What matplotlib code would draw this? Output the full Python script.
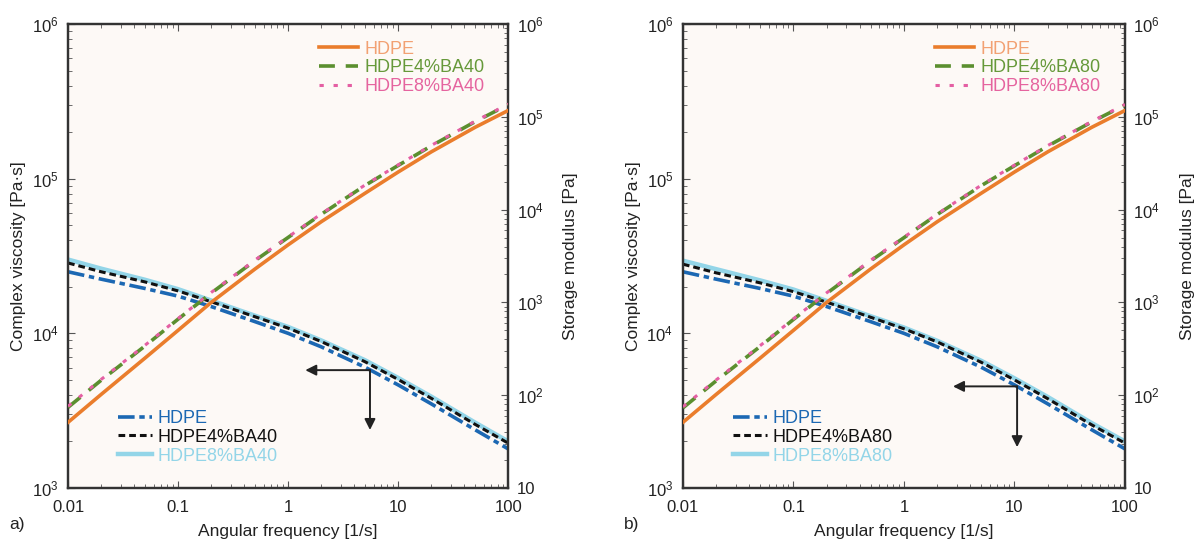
import matplotlib
matplotlib.use("Agg")
import matplotlib.pyplot as plt
import numpy as np
from matplotlib.ticker import FixedLocator, FixedFormatter, LogLocator, NullFormatter

plt.rcParams['font.family'] = ['Liberation Sans', 'DejaVu Sans']
plt.rcParams['mathtext.default'] = 'regular'

# angular frequency [1/s]
freq = [0.01, 0.02, 0.05, 0.1, 0.2, 0.5, 1, 2, 5, 10, 20, 50, 100]

# complex viscosity [Pa.s] (left axis)
eta_hdpe = [2.5e4, 2.24e4, 1.95e4, 1.74e4, 1.49e4, 1.19e4, 1.0e4, 8.18e3, 6.04e3, 4.64e3, 3.5e3, 2.38e3, 1.79e3]
eta_ba40_4 = [2.85e4, 2.5e4, 2.15e4, 1.88e4, 1.6e4, 1.28e4, 1.08e4, 8.85e3, 6.55e3, 5.03e3, 3.8e3, 2.58e3, 1.95e3]
eta_ba40_8 = [3.0e4, 2.62e4, 2.22e4, 1.93e4, 1.63e4, 1.3e4, 1.1e4, 9.0e3, 6.7e3, 5.15e3, 3.9e3, 2.65e3, 2.0e3]
eta_ba80_4 = [2.8e4, 2.46e4, 2.12e4, 1.86e4, 1.59e4, 1.27e4, 1.07e4, 8.8e3, 6.5e3, 5.0e3, 3.78e3, 2.56e3, 1.95e3]
eta_ba80_8 = [2.95e4, 2.6e4, 2.2e4, 1.92e4, 1.62e4, 1.29e4, 1.09e4, 8.95e3, 6.65e3, 5.12e3, 3.88e3, 2.63e3, 2.0e3]

# storage modulus [Pa] (right axis)
g_hdpe = [51, 102, 251, 500, 1000, 2290, 4170, 7400, 1.5e4, 2.54e4, 4.19e4, 7.7e4, 1.17e5]
g_ba40_4 = [74, 145, 339, 660, 1260, 2820, 5010, 8900, 1.82e4, 2.99e4, 4.86e4, 8.85e4, 1.35e5]
g_ba40_8 = [76, 148, 345, 670, 1280, 2860, 5070, 9000, 1.84e4, 3.03e4, 4.92e4, 8.95e4, 1.37e5]
g_ba80_4 = [73, 143, 335, 655, 1250, 2800, 4980, 8850, 1.81e4, 2.97e4, 4.84e4, 8.8e4, 1.34e5]
g_ba80_8 = [75, 146, 342, 665, 1270, 2840, 5040, 8950, 1.83e4, 3.01e4, 4.9e4, 8.9e4, 1.36e5]

x_ticks = [0.01, 0.1, 1, 10, 100]
x_labels = ['0.01', '0.1', '1', '10', '100']
left_ticks = [1e3, 1e4, 1e5, 1e6]
left_labels = ['$10^3$', '$10^4$', '$10^5$', '$10^6$']
right_ticks = [10, 1e2, 1e3, 1e4, 1e5, 1e6]
right_labels = ['10', '$10^2$', '$10^3$', '$10^4$', '$10^5$', '$10^6$']

c_orange = '#ea7d2c'
c_green = '#5b8f2f'
c_pink = '#e45fa3'
c_blue = '#1c68b3'
c_black = '#111111'
c_lblue = '#93d5e8'

fig = plt.figure(figsize=(11.96, 5.43), dpi=100)


def setup(ax):
    ax.set_facecolor('#fdf9f6')
    ax.set_xscale('log')
    ax.set_yscale('log')
    ax.set_xlim(0.01, 100)
    ax.set_ylim(1e3, 1e6)
    ax.xaxis.set_major_locator(FixedLocator(x_ticks))
    ax.xaxis.set_major_formatter(FixedFormatter(x_labels))
    ax.xaxis.set_minor_locator(LogLocator(base=10, subs=np.arange(2, 10)))
    ax.xaxis.set_minor_formatter(NullFormatter())
    ax.yaxis.set_major_locator(FixedLocator(left_ticks))
    ax.yaxis.set_major_formatter(FixedFormatter(left_labels))
    ax.yaxis.set_minor_locator(LogLocator(base=10, subs=np.arange(2, 10)))
    ax.yaxis.set_minor_formatter(NullFormatter())
    ax.tick_params(which='both', direction='in', top=True, right=False, labelsize=12,
                   color='#555555', labelcolor='#222222')
    ax.tick_params(which='major', length=5)
    ax.tick_params(which='minor', length=3)
    ax.tick_params(axis='x', which='major', pad=9)
    ax.tick_params(axis='y', which='major', pad=7)
    for s in ax.spines.values():
        s.set_linewidth(1.6)
        s.set_color('#333333')
    ax.set_xlabel('Angular frequency [1/s]', fontsize=12.5, color='#222222', labelpad=6)
    ax.set_ylabel('Complex viscosity [Pa·s]', fontsize=12.5, color='#222222', labelpad=4)
    tw = ax.twinx()
    tw.set_yscale('log')
    tw.set_ylim(10, 1e6)
    tw.yaxis.set_major_locator(FixedLocator(right_ticks))
    tw.yaxis.set_major_formatter(FixedFormatter(right_labels))
    tw.yaxis.set_minor_locator(LogLocator(base=10, subs=np.arange(2, 10)))
    tw.yaxis.set_minor_formatter(NullFormatter())
    tw.tick_params(which='both', direction='in', labelsize=12, color='#555555', labelcolor='#222222')
    tw.tick_params(which='major', length=5, pad=6)
    tw.tick_params(which='minor', length=3)
    for s in tw.spines.values():
        s.set_linewidth(1.6)
        s.set_color('#333333')
    tw.set_ylabel('Storage modulus [Pa]', fontsize=12.5, color='#222222', labelpad=14)
    return tw


def panel(rect, eta4, eta8, g4, g8, tag, letter, arrow):
    ax = fig.add_axes(rect)
    tw = setup(ax)

    l1, = ax.plot(freq, eta_hdpe, color=c_blue, lw=2.6, dashes=(4.6, 1.3, 1.5, 1.3), zorder=3)
    l3, = ax.plot(freq, eta8, color=c_lblue, lw=3.2, zorder=2)
    l2, = ax.plot(freq, eta4, color=c_black, lw=2.2, dashes=(2.2, 1.3), zorder=4)
    ax.legend([l1, l2, l3], ['HDPE', 'HDPE4%' + tag, 'HDPE8%' + tag],
              labelcolor=[c_blue, c_black, c_lblue], loc='lower left',
              bbox_to_anchor=(0.097, 0.035), frameon=False, fontsize=13,
              handlelength=1.9, handletextpad=0.3, labelspacing=0.1, borderaxespad=0)

    g1, = tw.plot(freq, g_hdpe, color=c_orange, lw=2.6, zorder=3)
    g2, = tw.plot(freq, g4, color=c_green, lw=2.6, dashes=(4.4, 3.0), zorder=4)
    g3, = tw.plot(freq, g8, color=c_pink, lw=2.2, dashes=(1.4, 3.2), zorder=5)
    tw.legend([g1, g2, g3], ['HDPE', 'HDPE4%' + tag, 'HDPE8%' + tag],
              labelcolor=['#f2a173', '#66993a', '#e5649f'], loc='upper left',
              bbox_to_anchor=(0.553, 0.98), frameon=False, fontsize=13,
              handlelength=2.2, handletextpad=0.35, labelspacing=0.1, borderaxespad=0)

    cx, cy, lx, dy = arrow
    ax.annotate('', xy=(lx, cy), xytext=(cx, cy), xycoords='axes fraction',
                arrowprops=dict(arrowstyle='-|>', color='#222222', lw=1.4, mutation_scale=16,
                                shrinkA=0, shrinkB=0))
    ax.annotate('', xy=(cx, dy), xytext=(cx, cy), xycoords='axes fraction',
                arrowprops=dict(arrowstyle='-|>', color='#222222', lw=1.4, mutation_scale=16,
                                shrinkA=0, shrinkB=0))
    fig.text(rect[0] - 0.049, 0.025, letter, fontsize=12.5, color='#222222')


panel([0.0569, 0.1013, 0.368, 0.8545], eta_ba40_4, eta_ba40_8, g_ba40_4, g_ba40_8,
      'BA40', 'a)', (0.686, 0.254, 0.539, 0.125))
panel([0.571, 0.1013, 0.3696, 0.8545], eta_ba80_4, eta_ba80_8, g_ba80_4, g_ba80_8,
      'BA80', 'b)', (0.756, 0.219, 0.611, 0.088))

fig.savefig('out.png', dpi=100)
